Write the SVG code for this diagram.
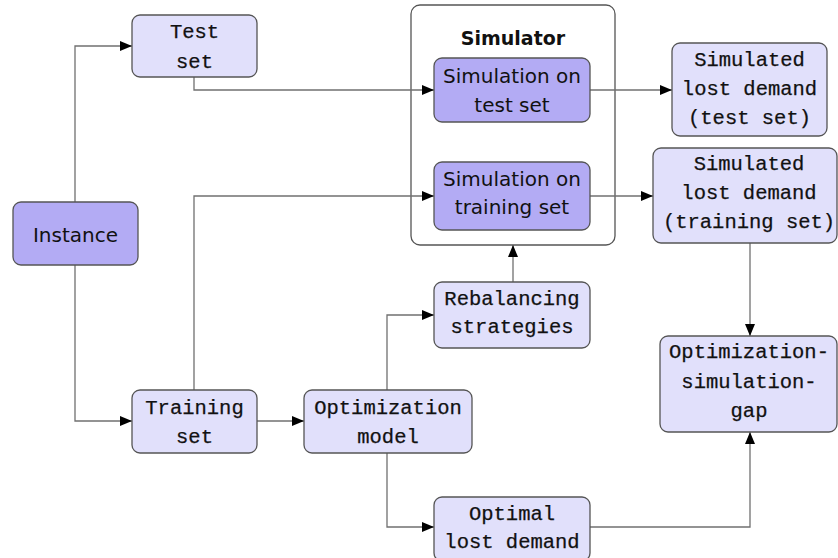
<svg xmlns="http://www.w3.org/2000/svg" width="838" height="558" viewBox="0 0 838 558">
<defs>
<marker id="arr" markerUnits="userSpaceOnUse" markerWidth="12" markerHeight="10" refX="12" refY="5" orient="auto">
<path d="M0,0 L12,5 L0,10 z" fill="#000"/>
</marker>
<style>
.light{fill:#e1e0fb;stroke:#555;stroke-width:1.3}
.dark{fill:#b3abf4;stroke:#555;stroke-width:1.3}
.frame{fill:#fff;stroke:#555;stroke-width:1.3}
.mono{font-family:"Liberation Mono","DejaVu Sans Mono",monospace;font-size:20.5px;fill:#111;stroke:#111;stroke-width:0.25;text-anchor:middle}
.sans{font-family:"DejaVu Sans","Liberation Sans",sans-serif;font-size:20px;fill:#111;text-anchor:middle}
.bold{font-family:"DejaVu Sans","Liberation Sans",sans-serif;font-size:19px;font-weight:bold;fill:#111;text-anchor:middle}
.conn path{fill:none;stroke:#707070;stroke-width:1.3;marker-end:url(#arr)}
</style>
</defs>
<rect width="838" height="558" fill="#fff"/>
<g id="simulator">
<rect class="frame" x="411" y="5" width="204" height="240" rx="9"/>
<text class="bold" x="513" y="45">Simulator</text>
</g>
<g id="conn" class="conn">
<path d="M75,202 V46 H132"/>
<path d="M75,265 V421 H132"/>
<path d="M194,77 V90 H434"/>
<path d="M194,390 V196 H434"/>
<path d="M257,421 H304"/>
<path d="M387,390 V315 H434"/>
<path d="M387,453 V527 H434"/>
<path d="M513,282 V245"/>
<path d="M590,90 H672"/>
<path d="M590,196 H653"/>
<path d="M750,243 V336"/>
<path d="M590,527 H750 V432"/>
</g>
<g id="instance">
<rect class="dark" x="13" y="202" width="125" height="63" rx="8"/>
<text class="sans" x="75.5" y="242">Instance</text>
</g>
<g id="testset">
<rect class="light" x="132" y="15" width="125" height="62" rx="8"/>
<text class="mono" x="194.5" y="38">Test</text>
<text class="mono" x="194.5" y="68">set</text>
</g>
<g id="trainingset">
<rect class="light" x="132" y="390" width="125" height="63" rx="8"/>
<text class="mono" x="194.5" y="414">Training</text>
<text class="mono" x="194.5" y="443">set</text>
</g>
<g id="optmodel">
<rect class="light" x="304" y="390" width="168" height="63" rx="8"/>
<text class="mono" x="388" y="414">Optimization</text>
<text class="mono" x="388" y="443">model</text>
</g>
<g id="simtest">
<rect class="dark" x="434" y="58" width="156" height="64" rx="8"/>
<text class="sans" x="512" y="83">Simulation on</text>
<text class="sans" x="512" y="112">test set</text>
</g>
<g id="simtrain">
<rect class="dark" x="434" y="162" width="156" height="68" rx="8"/>
<text class="sans" x="512" y="186">Simulation on</text>
<text class="sans" x="512" y="214">training set</text>
</g>
<g id="rebal">
<rect class="light" x="434" y="282" width="156" height="66" rx="8"/>
<text class="mono" x="512" y="305">Rebalancing</text>
<text class="mono" x="512" y="333">strategies</text>
</g>
<g id="optimal">
<rect class="light" x="434" y="497" width="156" height="64" rx="8"/>
<text class="mono" x="512" y="520">Optimal</text>
<text class="mono" x="512" y="548">lost demand</text>
</g>
<g id="sldtest">
<rect class="light" x="672" y="43" width="155" height="93" rx="8"/>
<text class="mono" x="749.5" y="66">Simulated</text>
<text class="mono" x="749.5" y="95">lost demand</text>
<text class="mono" x="749.5" y="124">(test set)</text>
</g>
<g id="sldtrain">
<rect class="light" x="653" y="148" width="184" height="95" rx="8"/>
<text class="mono" x="749" y="170">Simulated</text>
<text class="mono" x="749" y="199">lost demand</text>
<text class="mono" x="749" y="228">(training set)</text>
</g>
<g id="gap">
<rect class="light" x="660" y="336" width="177" height="96" rx="8"/>
<text class="mono" x="749" y="358">Optimization-</text>
<text class="mono" x="749" y="388">simulation-</text>
<text class="mono" x="749" y="417">gap</text>
</g>
</svg>
